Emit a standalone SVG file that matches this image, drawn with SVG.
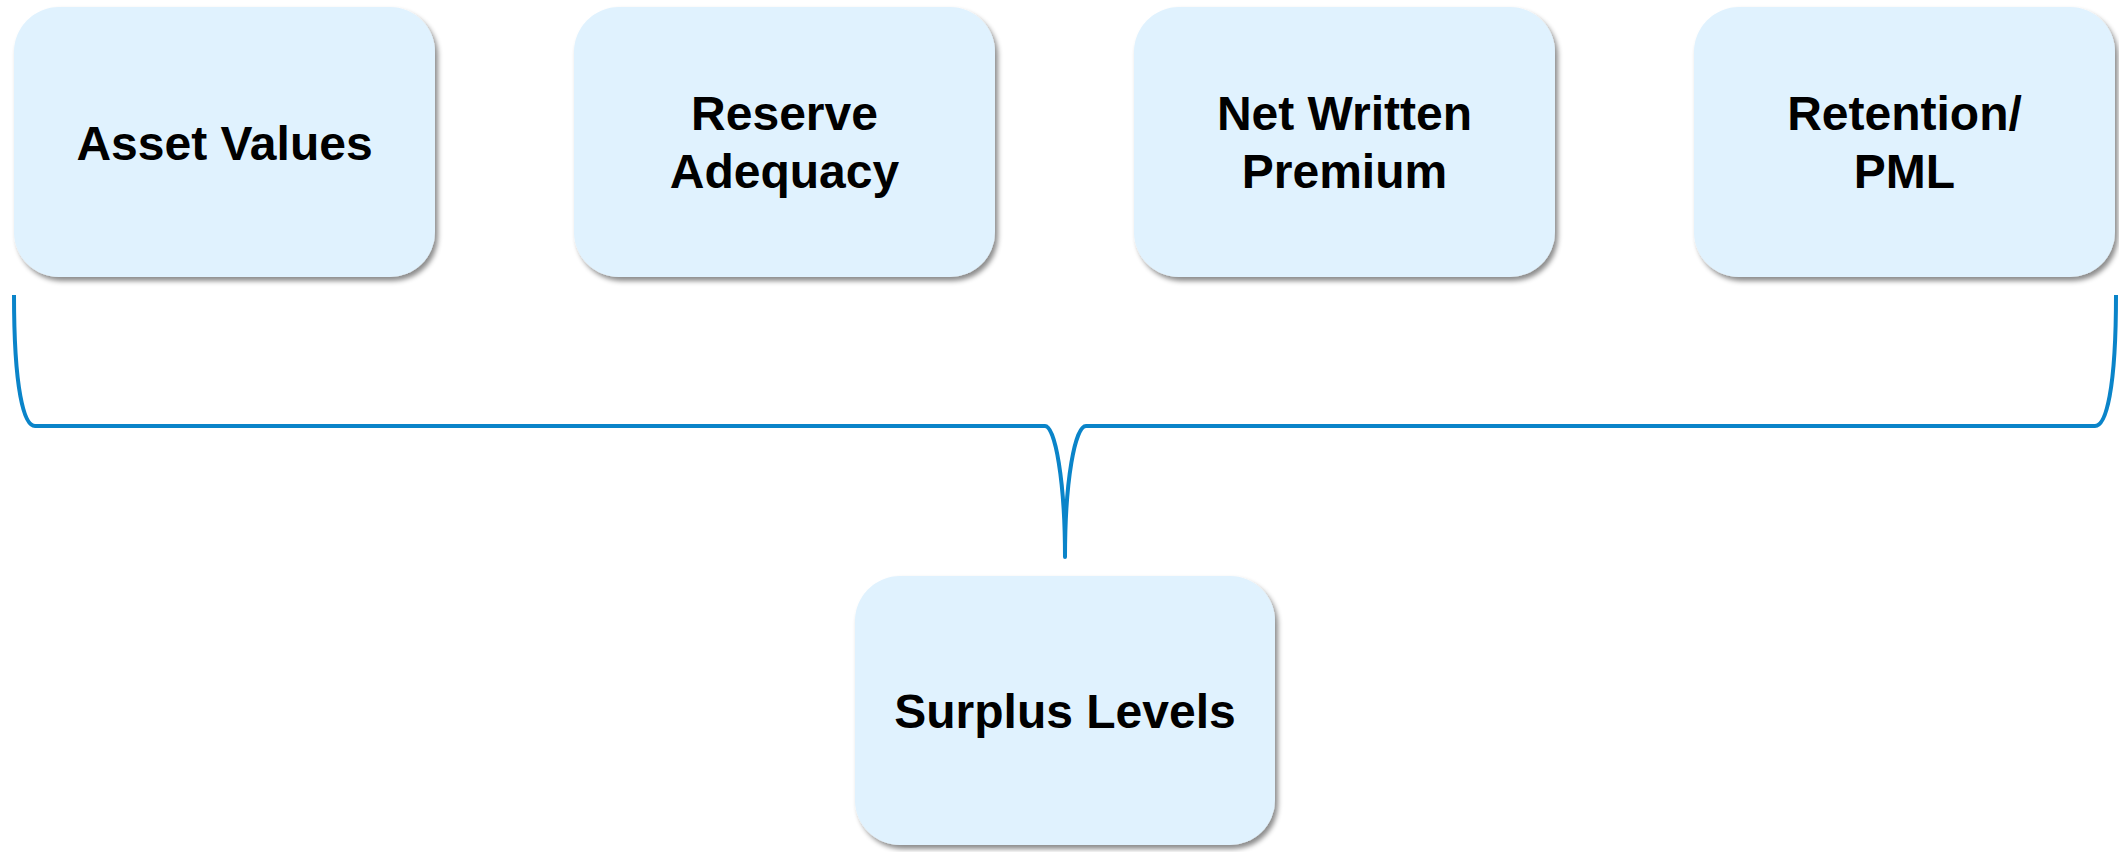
<svg xmlns="http://www.w3.org/2000/svg" width="2119" height="852" viewBox="0 0 2119 852">
  <defs>
    <filter id="shadow" x="-10%" y="-10%" width="125%" height="125%">
      <feDropShadow dx="3" dy="4" stdDeviation="2.5" flood-color="#000000" flood-opacity="0.45"/>
    </filter>
    <style>
      .box { fill: #E0F2FE; filter: url(#shadow); }
      .label { font-family: "Liberation Sans", Arial, sans-serif; font-weight: bold; font-size: 48px; fill: #000000; text-anchor: middle; }
      .conn { fill: none; stroke: #0A84C9; stroke-width: 4; stroke-linecap: butt; stroke-linejoin: round; }
    </style>
  </defs>
  <rect x="0" y="0" width="2119" height="852" fill="#FFFFFF"/>

  <g id="connectors">
    <path class="conn" d="M14,295 C14,390 24,426 35,426 L1045,426 C1055,426 1065,480 1065,557 C1065,480 1075,426 1086,426 L2095,426 C2106,426 2116,390 2116,295"/>
  </g>

  <g id="node-asset-values">
    <rect class="box" x="14" y="7" width="421" height="270" rx="45" ry="45"/>
    <text class="label" x="224.5" y="160">Asset Values</text>
  </g>

  <g id="node-reserve-adequacy">
    <rect class="box" x="574" y="7" width="421" height="270" rx="45" ry="45"/>
    <text class="label" x="784.5" y="130">Reserve</text>
    <text class="label" x="784.5" y="188">Adequacy</text>
  </g>

  <g id="node-net-written-premium">
    <rect class="box" x="1134" y="7" width="421" height="270" rx="45" ry="45"/>
    <text class="label" x="1344.5" y="130">Net Written</text>
    <text class="label" x="1344.5" y="188">Premium</text>
  </g>

  <g id="node-retention-pml">
    <rect class="box" x="1694" y="7" width="421" height="270" rx="45" ry="45"/>
    <text class="label" x="1904.5" y="130">Retention/</text>
    <text class="label" x="1904.5" y="188">PML</text>
  </g>

  <g id="node-surplus-levels">
    <rect class="box" x="855" y="576" width="420" height="269" rx="45" ry="45"/>
    <text class="label" x="1065" y="728">Surplus Levels</text>
  </g>
</svg>
